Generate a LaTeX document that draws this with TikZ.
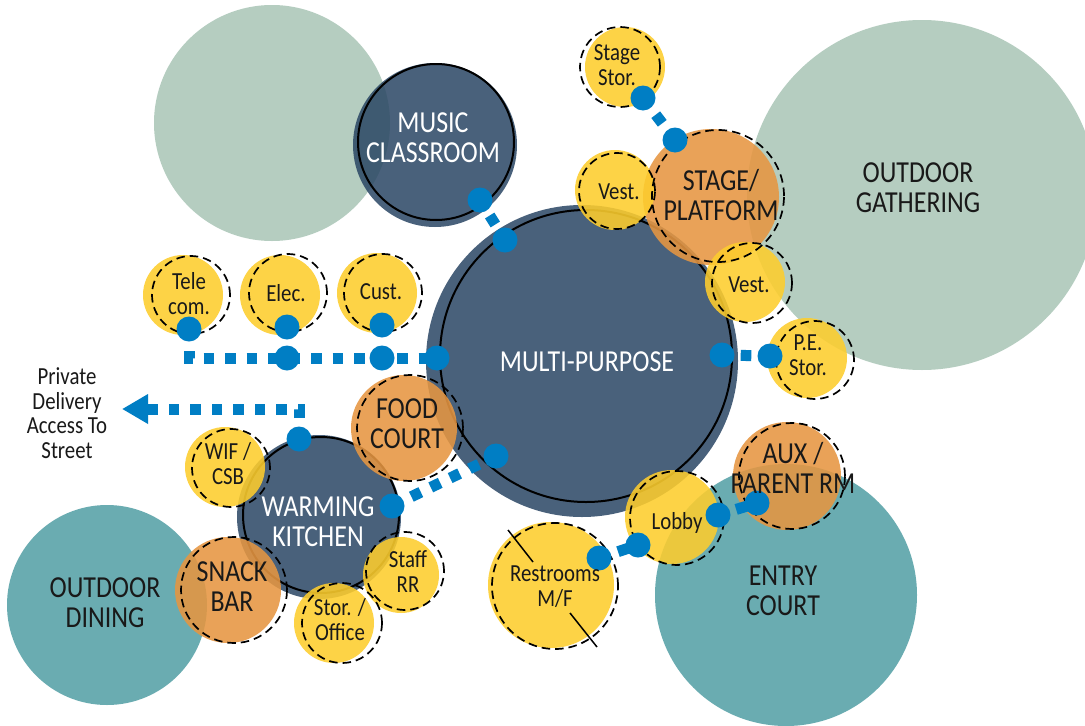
\documentclass[tikz,border=0pt]{standalone}
\usepackage{fontspec}
\setmainfont{Carlito}[FakeStretch=0.85]
\usetikzlibrary{arrows.meta}
\definecolor{sage}{RGB}{181,205,192}
\definecolor{tealc}{RGB}{106,172,177}
\definecolor{navy}{RGB}{42,70,100}
\definecolor{gold}{RGB}{253,205,45}
\definecolor{amber}{RGB}{230,150,65}
\definecolor{linkc}{RGB}{0,126,196}
\definecolor{ink}{RGB}{25,25,25}
\begin{document}
\begin{tikzpicture}[x=1pt,y=-1pt,
  bigtxt/.style={font=\fontsize{30.5}{30}\selectfont, align=center, text=ink, inner sep=0pt},
  smalltxt/.style={font=\fontsize{24.5}{25}\selectfont, align=center, text=ink, inner sep=0pt},
  whitetxt/.style={bigtxt, text=white},
  navyfill/.style={fill=navy, fill opacity=0.85},
  goldfill/.style={fill=gold, fill opacity=0.88},
  amberfill/.style={fill=amber, fill opacity=0.88},
  solidring/.style={draw=black, line width=2pt},
  dashring/.style={draw=black, line width=1.7pt, dash pattern=on 8.5pt off 5pt},
  linkdash/.style={draw=linkc, line width=11pt, dash pattern=on 10.5pt off 11pt},
  linkstub/.style={draw=linkc, line width=11pt},
  linkdot/.style={circle, fill=linkc, minimum size=25pt, inner sep=0pt}
]
\useasboundingbox (0,0) rectangle (1085,726);
\fill[white] (0,0) rectangle (1085,726);

% outdoor areas
\fill[sage] (272,123) circle[radius=118pt];
\fill[sage] (922,195) circle[radius=175pt];
\fill[tealc] (107,605) circle[radius=100pt];
\fill[tealc] (786,595) circle[radius=131pt];

% main rooms
\fill[navyfill] (582,361) circle[radius=156pt];
\fill[navyfill] (435,145) circle[radius=82pt];
\fill[navyfill] (319,517) circle[radius=82pt];
\draw[solidring] (586,356) circle[radius=146pt];
\draw[solidring] (436,142) circle[radius=78pt];
\draw[solidring] (321,515) circle[radius=78pt];

% translucent rooms
\fill[amberfill] (711,197) circle[radius=68pt];
\fill[goldfill] (625,67) circle[radius=40pt];
\fill[goldfill] (615,190) circle[radius=40pt];
\fill[goldfill] (745,282) circle[radius=40pt];
\fill[goldfill] (807,358) circle[radius=40pt];
\fill[goldfill] (183,295) circle[radius=40pt];
\fill[goldfill] (280,295) circle[radius=40pt];
\fill[goldfill] (377,293) circle[radius=40pt];
\fill[amberfill] (404,428) circle[radius=53pt];
\fill[goldfill] (225,467) circle[radius=40pt];
\fill[amberfill] (228,590) circle[radius=53pt];
\fill[goldfill] (401,575) circle[radius=38pt];
\fill[goldfill] (334,623) circle[radius=40pt];
\fill[goldfill] (672,517) circle[radius=47pt];
\fill[amberfill] (787,476) circle[radius=54pt];
\fill[goldfill] (551,585) circle[radius=63pt];

% dashed outlines
\draw[dashring] (718,196) circle[radius=66pt];
\draw[dashring] (620,67) circle[radius=40pt];
\draw[dashring] (617,191) circle[radius=38pt];
\draw[dashring] (752,283) circle[radius=40pt];
\draw[dashring] (815,360) circle[radius=39pt];
\draw[dashring] (191,295) circle[radius=39pt];
\draw[dashring] (288,293) circle[radius=39pt];
\draw[dashring] (383,293) circle[radius=39pt];
\draw[dashring] (410,428) circle[radius=53pt];
\draw[dashring] (231,468) circle[radius=39pt];
\draw[dashring] (234,590) circle[radius=53pt];
\draw[dashring] (405,571) circle[radius=39pt];
\draw[dashring] (342,623) circle[radius=40pt];
\draw[dashring] (677,518) circle[radius=47pt];
\draw[dashring] (792,476) circle[radius=53pt];
\draw[dashring] (555,586) circle[radius=63pt];
\draw[black, line width=1.5pt] (508,530) -- (533,562);
\draw[black, line width=1.5pt] (570,613) -- (597,647);

% connector end points
\coordinate (mu1) at (480,200);
\coordinate (mu2) at (505,240);
\coordinate (ss1) at (643,98);
\coordinate (ss2) at (675,140);
\coordinate (pe1) at (722,355);
\coordinate (pe2) at (770,356);
\coordinate (tel) at (189,329);
\coordinate (ele) at (287,327);
\coordinate (cus) at (382,325);
\coordinate (ele2) at (287,358);
\coordinate (cus2) at (382,358);
\coordinate (mpw) at (437,358);
\coordinate (wkt) at (299,439);
\coordinate (street) at (122,409);
\coordinate (wkr) at (392,506);
\coordinate (mps) at (496,456);
\coordinate (lbr) at (718,515);
\coordinate (aux) at (757,503);
\coordinate (lbl) at (638,545);
\coordinate (rr) at (599,558);

% connectors
\draw[linkstub, shorten <=18.3pt, shorten >=18.3pt] (mu1) -- (mu2);
\draw[linkstub, shorten <=21pt, shorten >=21pt] (ss1) -- (ss2);
\draw[linkstub, shorten <=18.7pt, shorten >=18.7pt] (pe1) -- (pe2);
\draw[linkstub, shorten <=19pt] (lbr) -- (aux);
\draw[linkstub, shorten >=20pt] (lbl) -- (rr);
\draw[linkdash, dash phase=21pt] (tel) |- (mpw);
\draw[linkdash, dash phase=0.5pt, -{Triangle[length=26pt,width=28pt]}] (wkt) |- (street);
\draw[linkdash] (wkr) -- (mps);

% dots
\foreach \p in {mu1,mu2,ss1,ss2,pe1,pe2,tel,ele,cus,ele2,cus2,mpw,wkt,wkr,mps,lbr,aux,lbl,rr}
  \node[linkdot] (dot-\p) at (\p) {};

% labels
\node[bigtxt] (tgath) at (918,188) {OUTDOOR\\GATHERING};
\node[bigtxt] (tentry) at (783,591) {ENTRY\\COURT};
\node[bigtxt] (tdine) at (105,603) {OUTDOOR\\DINING};
\node[whitetxt] (tmp) at (587,362) {MULTI-PURPOSE};
\node[whitetxt] (tmusic) at (433,138) {MUSIC\\CLASSROOM};
\node[whitetxt] (tkitchen) at (318,522) {WARMING\\KITCHEN};
\node[bigtxt] (tstage) at (721,195) {STAGE/\\PLATFORM};
\node[bigtxt] (tfood) at (407,424) {FOOD\\COURT};
\node[bigtxt] (tsnack) at (232,587) {SNACK\\BAR};
\node[bigtxt] (taux) at (793,468) {AUX /\\PARENT RM};
\node[smalltxt] (tss) at (617,65) {Stage\\Stor.};
\node[smalltxt] (tva) at (619,192) {Vest.};
\node[smalltxt] (tvb) at (749,285) {Vest.};
\node[smalltxt] (tpe) at (808,355) {P.E.\\Stor.};
\node[smalltxt] (ttel) at (189,294) {Tele\\com.};
\node[smalltxt] (tele) at (286,293) {Elec.};
\node[smalltxt] (tcus) at (381,292) {Cust.};
\node[smalltxt] (twif) at (228,464) {WIF /\\CSB};
\node[smalltxt] (tstaff) at (408,572) {Staff\\RR};
\node[smalltxt] (tstor) at (340,620) {Stor. /\\Office};
\node[smalltxt] (tlobby) at (677,523) {Lobby};
\node[smalltxt] (trest) at (555,587) {Restrooms\\M/F};
\node[smalltxt, font=\fontsize{24.5}{24.5}\selectfont] (tpriv) at (67,413) {Private\\Delivery\\Access To\\Street};
\end{tikzpicture}
\end{document}
